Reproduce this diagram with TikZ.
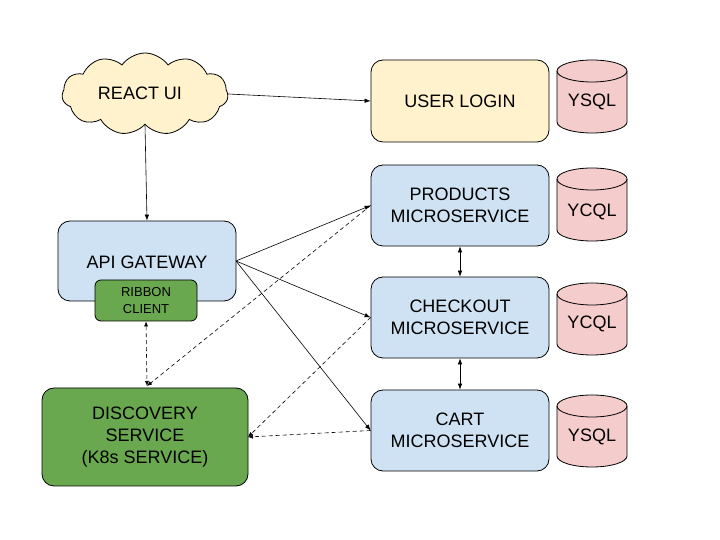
\documentclass[tikz,border=0pt]{standalone}
\usepackage{fontspec}
\setmainfont{Liberation Sans}
\usetikzlibrary{shapes.symbols,arrows.meta}
\definecolor{bluef}{HTML}{CFE2F3}
\definecolor{yellf}{HTML}{FFF2CC}
\definecolor{redf}{HTML}{F4CCCC}
\definecolor{greenf}{HTML}{6AA84F}
\tikzset{
  box/.style={draw=black, line width=0.8pt, rounded corners=12pt, align=center, font=\fontsize{18}{22}\selectfont, inner sep=0pt},
  svc/.style={box, fill=bluef, minimum width=178pt, minimum height=81pt},
  dbtext/.style={font=\fontsize{18}{22}\selectfont},
  conn/.style={line width=0.6pt, -{Latex[length=6pt,width=4.5pt]}},
  biconn/.style={line width=0.6pt, {Latex[length=6pt,width=4.5pt]}-{Latex[length=6pt,width=4.5pt]}},
  dconn/.style={line width=0.6pt, dash pattern=on 4pt off 3pt, -{Latex[length=5pt,width=4pt]}},
  dbiconn/.style={line width=0.6pt, dash pattern=on 4pt off 3pt, {Latex[length=5pt,width=4pt]}-{Latex[length=5pt,width=4pt]}},
}
\newcommand{\dbcyl}[3]{% center x, top y, bottom y
  \fill[redf] (#1-35,#2-11) -- (#1-35,#3+11) arc[start angle=180,end angle=360,x radius=35,y radius=11] -- (#1+35,#2-11) arc[start angle=0,end angle=180,x radius=35,y radius=11] -- cycle;
  \draw[line width=0.8pt] (#1-35,#2-11) -- (#1-35,#3+11) arc[start angle=180,end angle=360,x radius=35,y radius=11] -- (#1+35,#2-11) arc[start angle=0,end angle=180,x radius=35,y radius=11] -- cycle;
  \draw[line width=0.8pt] (#1-35,#2-11) arc[start angle=180,end angle=360,x radius=35,y radius=11];
}
\begin{document}
\begin{tikzpicture}[x=1pt,y=1pt]
\useasboundingbox[fill=white] (0,0) rectangle (720,540);
% cloud
\node[cloud, cloud puffs=11, cloud puff arc=110, aspect=2, draw=black, line width=0.8pt, fill=yellf, minimum width=166pt, minimum height=82pt, inner sep=0pt] (react) at (145,446) {};
\node[font=\fontsize{18}{22}\selectfont] (reacttext) at (140,447) {REACT UI};
% services
\node[box, fill=yellf, minimum width=178pt, minimum height=82pt] (login) at (460,439) {USER LOGIN};
\node[svc] (products) at (460,334.5) {PRODUCTS\\MICROSERVICE};
\node[svc] (checkout) at (460,222.5) {CHECKOUT\\MICROSERVICE};
\node[svc] (cart) at (460,109.5) {CART\\MICROSERVICE};
% api gateway
\node[box, fill=bluef, minimum width=178pt, minimum height=80pt] (api) at (147,279) {};
\node[font=\fontsize{18}{22}\selectfont] (apitext) at (147,278) {API GATEWAY};
\node[box, fill=greenf, rounded corners=6pt, minimum width=102pt, minimum height=41pt, font=\fontsize{13}{17}\selectfont] (ribbon) at (146,239.5) {RIBBON\\CLIENT};
% discovery
\node[box, fill=greenf, minimum width=206pt, minimum height=98pt] (disc) at (145,103) {DISCOVERY\\SERVICE\\(K8s SERVICE)};
% databases
\dbcyl{592}{480}{407}
\node[dbtext] (db1) at (592,438) {YSQL};
\dbcyl{592}{372}{299}
\node[dbtext] (db2) at (592,328) {YCQL};
\dbcyl{592}{257}{185}
\node[dbtext] (db3) at (592,216) {YCQL};
\dbcyl{592}{145}{73}
\node[dbtext] (db4) at (592,103) {YSQL};
% connectors
\coordinate (apie) at (236,279);
\coordinate (discn) at (147,154);
\coordinate (disce) at (248,103);
\draw[conn] (react.south) -- (api.north);
\draw[conn] (react.east) -- (login.west);
\draw[conn] (apie) -- (products.west);
\draw[conn] (apie) -- (checkout.west);
\draw[conn] (apie) -- (cart.west);
\draw[biconn] (products.south) -- (checkout.north);
\draw[biconn] (checkout.south) -- (cart.north);
\draw[dbiconn] (ribbon.south) -- (discn);
\draw[dconn] (products.west) -- (discn);
\draw[dconn] (checkout.west) -- (disce);
\draw[dconn] (cart.west) -- (disce);
\end{tikzpicture}
\end{document}
